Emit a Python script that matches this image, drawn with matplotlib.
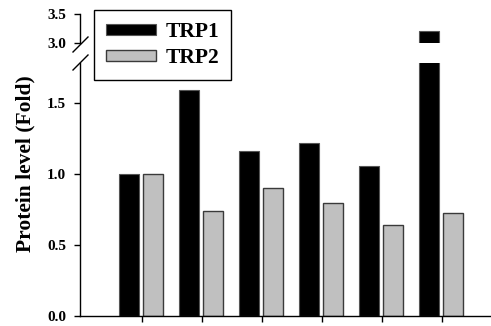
import matplotlib
matplotlib.use("Agg")
import matplotlib.pyplot as plt
from matplotlib.lines import Line2D
import numpy as np

plt.rcParams['font.family'] = ['Liberation Serif', 'DejaVu Serif']
plt.rcParams['font.weight'] = 'bold'

# Data
groups = [0, 1, 2, 3, 4, 5]
trp1 = [1.0, 1.59, 1.16, 1.22, 1.055, 3.2]
trp2 = [1.0, 0.74, 0.90, 0.795, 0.64, 0.725]
series_names = ['TRP1', 'TRP2']
lower_ticks = [0.0, 0.5, 1.0, 1.5]
upper_ticks = [3.0, 3.5]

W, H = 491, 326
fig = plt.figure(figsize=(W / 100, H / 100), dpi=100)

def fx(px):
    return px / W

def fy(py):
    return 1 - py / H

left, right = 80, 490
ax_lo = fig.add_axes([fx(left), fy(316), fx(right - left), fy(63) - fy(316)])
ax_hi = fig.add_axes([fx(left), fy(43), fx(right - left), fy(14) - fy(43)])

x = np.array(groups, dtype=float)
width = 0.33
black_kw = dict(color='black', edgecolor='#555555', linewidth=0.8)
gray_kw = dict(color='#c0c0c0', edgecolor='#3a3a3a', linewidth=1.0)

for ax in (ax_lo, ax_hi):
    b1 = ax.bar(x - 0.21, trp1, width, label=series_names[0], **black_kw)
    b2 = ax.bar(x + 0.19, trp2, width, label=series_names[1], **gray_kw)
    ax.set_xlim(-1.033, 5.8)
    for s in ('top', 'right'):
        ax.spines[s].set_visible(False)
    ax.spines['left'].set_linewidth(1.0)
    ax.tick_params(axis='y', direction='out', length=4, width=1, pad=6,
                   labelsize=11)

ax_lo.set_ylim(0, 1.78)
ax_lo.set_yticks(lower_ticks)
ax_lo.set_yticklabels([f'{t:.1f}' for t in lower_ticks], fontweight='bold')
ax_lo.set_xticks(x)
ax_lo.set_xticklabels([])
ax_lo.tick_params(axis='x', direction='out', length=4.5, width=1)
ax_lo.spines['bottom'].set_linewidth(1.0)

ax_hi.set_ylim(3.0, 3.5)
ax_hi.set_yticks(upper_ticks)
ax_hi.set_yticklabels([f'{t:.1f}' for t in upper_ticks], fontweight='bold')
ax_hi.spines['bottom'].set_visible(False)
ax_hi.set_xticks([])

# Axis break marks
for y0 in (52, 70):
    fig.add_artist(Line2D([fx(73), fx(88)], [fy(y0), fy(y0 - 15)],
                          color='black', linewidth=1.0))

fig.text(fx(25), fy(164), 'Protein level (Fold)', rotation=90,
         ha='center', va='center', fontsize=15.5, fontweight='bold')

handles = [b1, b2]
fig.legend(handles, series_names, loc='upper left',
           bbox_to_anchor=(fx(94), fy(10)), borderaxespad=0,
           prop={'size': 15.5, 'weight': 'bold'},
           frameon=True, fancybox=False, edgecolor='black', framealpha=1,
           handlelength=2.33, handleheight=0.42, handletextpad=0.45,
           labelspacing=0.3, borderpad=0.55)
fig.legends[0].get_frame().set_linewidth(1.0)

fig.savefig('out.png', dpi=100)
